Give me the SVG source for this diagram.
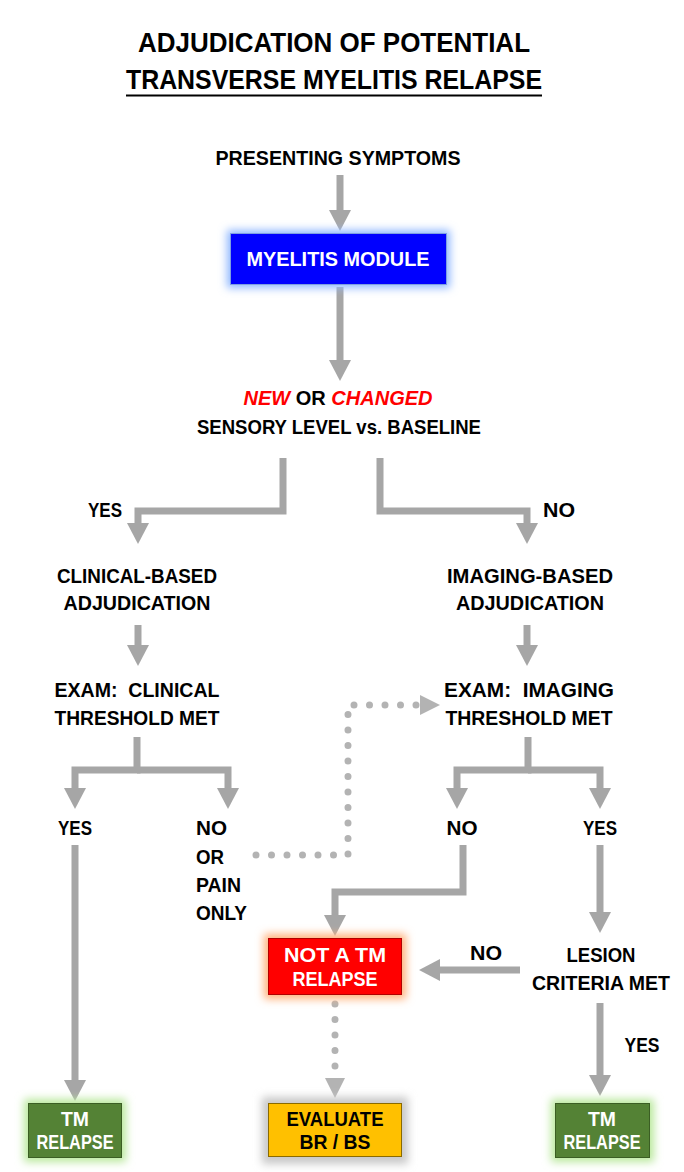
<svg xmlns="http://www.w3.org/2000/svg" width="684" height="1172" viewBox="0 0 684 1172">
<defs>
<style>
text{font-family:"Liberation Sans",Arial,sans-serif;font-weight:bold;fill:#000;white-space:pre;}
.t{font-size:21px;}
.title{font-size:28px;}
.w{fill:#fff;}
.red{fill:#ff0000;font-style:italic;}
.c{stroke:#a6a6a6;stroke-width:7;fill:none;stroke-linejoin:miter;}
.a{marker-end:url(#ah);}
.d{stroke:#b3b3b3;stroke-width:7;fill:none;stroke-dasharray:0 15.5;stroke-linecap:round;}
.da{marker-end:url(#ahd);}
</style>
<marker id="ah" markerUnits="userSpaceOnUse" markerWidth="22" markerHeight="24" refX="0" refY="12" orient="auto">
<path d="M0,1 L21,12 L0,23 Z" fill="#a6a6a6"/>
</marker>
<marker id="ahd" markerUnits="userSpaceOnUse" markerWidth="22" markerHeight="22" refX="0" refY="11" orient="auto">
<path d="M0,1 L20,11 L0,21 Z" fill="#b3b3b3"/>
</marker>
<filter id="blur" x="-30%" y="-30%" width="160%" height="160%"><feGaussianBlur stdDeviation="4"/></filter>
</defs>
<rect width="684" height="1172" fill="#fff"/>

<g id="title">
<text class="title" x="334" y="52" text-anchor="middle" textLength="392" lengthAdjust="spacingAndGlyphs">ADJUDICATION OF POTENTIAL</text>
<text class="title" x="334" y="89" text-anchor="middle" textLength="416" lengthAdjust="spacingAndGlyphs">TRANSVERSE MYELITIS RELAPSE</text>
<line x1="126" y1="95.5" x2="542" y2="95.5" stroke="#000" stroke-width="2"/>
</g>

<g id="connectors">
<path class="c a" d="M340,175 V210"/>
<path class="c a" d="M340,287 V360"/>
<path class="c a" d="M283,458 V511 H138 V523"/>
<path class="c a" d="M380,458 V511 H527 V523"/>
<path class="c a" d="M138,625 V645"/>
<path class="c a" d="M527,625 V645"/>
<path class="c a" d="M137,737 V770 H75 V788"/>
<path class="c a" d="M137,770 H228 V788"/>
<path class="c a" d="M528,737 V770 H457 V788"/>
<path class="c a" d="M528,770 H600 V788"/>
<path class="c a" d="M75,845 V1080"/>
<path class="c a" d="M463,845 V892 H335 V915"/>
<path class="c a" d="M600,845 V912"/>
<path class="c a" d="M520,970 H440"/>
<path class="c a" d="M600,1003 V1075"/>
<path class="d da" d="M256,855 H348 V705 H420"/>
<path class="d da" d="M335,1004 V1078"/>
</g>

<g id="presenting">
<text class="t" x="338" y="165" text-anchor="middle" textLength="245" lengthAdjust="spacingAndGlyphs">PRESENTING SYMPTOMS</text>
</g>

<g id="myelitis-module">
<rect x="227" y="230" width="223" height="58" fill="#8fb8ff" filter="url(#blur)"/>
<rect x="230.5" y="233.5" width="216" height="51" fill="#0000ff" stroke="#7f9fe0" stroke-width="1"/>
<text class="t w" x="338" y="266" text-anchor="middle" textLength="183" lengthAdjust="spacingAndGlyphs">MYELITIS MODULE</text>
</g>

<g id="sensory-level">
<text class="t" x="338" y="405" text-anchor="middle" textLength="189" lengthAdjust="spacingAndGlyphs"><tspan class="red">NEW</tspan> OR <tspan class="red">CHANGED</tspan></text>
<text class="t" x="339" y="434" text-anchor="middle" textLength="284" lengthAdjust="spacingAndGlyphs">SENSORY LEVEL vs. BASELINE</text>
</g>

<g id="label-yes-1"><text class="t" x="105" y="517" text-anchor="middle" textLength="34" lengthAdjust="spacingAndGlyphs">YES</text></g>
<g id="label-no-1"><text class="t" x="559" y="517" text-anchor="middle" textLength="32" lengthAdjust="spacingAndGlyphs">NO</text></g>

<g id="clinical-based">
<text class="t" x="137" y="583" text-anchor="middle" textLength="160" lengthAdjust="spacingAndGlyphs">CLINICAL-BASED</text>
<text class="t" x="137" y="610" text-anchor="middle" textLength="147" lengthAdjust="spacingAndGlyphs">ADJUDICATION</text>
</g>

<g id="imaging-based">
<text class="t" x="530" y="583" text-anchor="middle" textLength="166" lengthAdjust="spacingAndGlyphs">IMAGING-BASED</text>
<text class="t" x="530" y="610" text-anchor="middle" textLength="148" lengthAdjust="spacingAndGlyphs">ADJUDICATION</text>
</g>

<g id="exam-clinical">
<text class="t" x="137" y="697" text-anchor="middle" textLength="165" lengthAdjust="spacingAndGlyphs">EXAM:  CLINICAL</text>
<text class="t" x="137" y="725" text-anchor="middle" textLength="165" lengthAdjust="spacingAndGlyphs">THRESHOLD MET</text>
</g>

<g id="exam-imaging">
<text class="t" x="529" y="697" text-anchor="middle" textLength="170" lengthAdjust="spacingAndGlyphs">EXAM:  IMAGING</text>
<text class="t" x="529" y="725" text-anchor="middle" textLength="167" lengthAdjust="spacingAndGlyphs">THRESHOLD MET</text>
</g>

<g id="clinical-yes"><text class="t" x="75" y="835" text-anchor="middle" textLength="34" lengthAdjust="spacingAndGlyphs">YES</text></g>
<g id="clinical-no">
<text class="t" x="196" y="835" textLength="31" lengthAdjust="spacingAndGlyphs">NO</text>
<text class="t" x="196" y="864" textLength="28" lengthAdjust="spacingAndGlyphs">OR</text>
<text class="t" x="196" y="892" textLength="45" lengthAdjust="spacingAndGlyphs">PAIN</text>
<text class="t" x="196" y="920" textLength="51" lengthAdjust="spacingAndGlyphs">ONLY</text>
</g>

<g id="imaging-no"><text class="t" x="462" y="835" text-anchor="middle" textLength="31" lengthAdjust="spacingAndGlyphs">NO</text></g>
<g id="imaging-yes"><text class="t" x="600" y="835" text-anchor="middle" textLength="34" lengthAdjust="spacingAndGlyphs">YES</text></g>

<g id="not-tm-relapse">
<rect x="264" y="934" width="142" height="65" fill="#ffb07a" filter="url(#blur)"/>
<rect x="268.5" y="938.5" width="133" height="56" fill="#ff0000" stroke="#b00000" stroke-width="1"/>
<text class="t w" x="335" y="962" text-anchor="middle" textLength="102" lengthAdjust="spacingAndGlyphs">NOT A TM</text>
<text class="t w" x="335" y="986" text-anchor="middle" textLength="85" lengthAdjust="spacingAndGlyphs">RELAPSE</text>
</g>

<g id="label-no-lesion"><text class="t" x="486" y="960" text-anchor="middle" textLength="32" lengthAdjust="spacingAndGlyphs">NO</text></g>

<g id="lesion-criteria">
<text class="t" x="601" y="962" text-anchor="middle" textLength="69" lengthAdjust="spacingAndGlyphs">LESION</text>
<text class="t" x="601" y="990" text-anchor="middle" textLength="138" lengthAdjust="spacingAndGlyphs">CRITERIA MET</text>
</g>

<g id="label-yes-lesion"><text class="t" x="642" y="1052" text-anchor="middle" textLength="35" lengthAdjust="spacingAndGlyphs">YES</text></g>

<g id="tm-relapse-left">
<rect x="24" y="1099" width="102" height="63" fill="#b9e89c" filter="url(#blur)"/>
<rect x="28.5" y="1103.5" width="93" height="54" fill="#548235" stroke="#3b5e24" stroke-width="1"/>
<text class="t w" x="75" y="1126" text-anchor="middle" textLength="28" lengthAdjust="spacingAndGlyphs">TM</text>
<text class="t w" x="75" y="1149" text-anchor="middle" textLength="77" lengthAdjust="spacingAndGlyphs">RELAPSE</text>
</g>

<g id="evaluate-br-bs">
<rect x="262" y="1097" width="146" height="67" fill="#c8c8c8" filter="url(#blur)"/>
<rect x="268.5" y="1103.5" width="133" height="53" fill="#ffc000" stroke="#8a6a00" stroke-width="1"/>
<text class="t" x="335" y="1126" text-anchor="middle" textLength="97" lengthAdjust="spacingAndGlyphs">EVALUATE</text>
<text class="t" x="335" y="1149" text-anchor="middle" textLength="71" lengthAdjust="spacingAndGlyphs">BR / BS</text>
</g>

<g id="tm-relapse-right">
<rect x="551" y="1099" width="103" height="63" fill="#b9e89c" filter="url(#blur)"/>
<rect x="555.5" y="1103.5" width="94" height="54" fill="#548235" stroke="#3b5e24" stroke-width="1"/>
<text class="t w" x="602" y="1126" text-anchor="middle" textLength="28" lengthAdjust="spacingAndGlyphs">TM</text>
<text class="t w" x="602" y="1149" text-anchor="middle" textLength="77" lengthAdjust="spacingAndGlyphs">RELAPSE</text>
</g>
</svg>
